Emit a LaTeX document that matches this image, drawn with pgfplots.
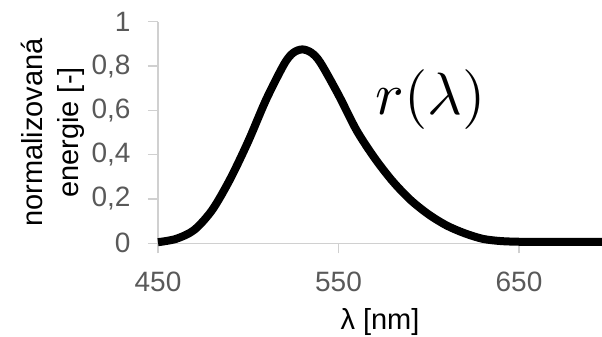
\documentclass[border=0pt]{standalone}
\usepackage{graphicx}
\usepackage{pgfplots}
\pgfplotsset{compat=1.18}
\usepackage{fontspec}
\setmainfont{Liberation Sans}
\definecolor{axgrey}{HTML}{D0D0D0}
\definecolor{tickgrey}{HTML}{595959}
\begin{document}
\begin{tikzpicture}
\begin{axis}[
  scale only axis,
  width=444bp, height=221.6bp,
  xmin=450, xmax=696, ymin=0, ymax=1,
  axis x line*=bottom, axis y line*=left,
  axis line style={axgrey, line width=1.2bp, -},
  xtick={450,550,650}, ytick={0,0.2,0.4,0.6,0.8,1},
  tick style={axgrey, line width=1.2bp},
  tick align=outside, major tick length=10bp,
  ticklabel style={font=\fontsize{28bp}{30bp}\selectfont, text=tickgrey},
  xticklabel style={yshift=-15bp},
  yticklabel style={xshift=-14bp},
  /pgf/number format/.cd, use comma, 1000 sep={}, assume math mode=true,
  /pgfplots/.cd,
  xlabel={λ [nm]},
  ylabel={normalizovaná\\energie [-]},
  label style={font=\fontsize{29bp}{36bp}\selectfont, text=black},
  ylabel style={align=center},
  xlabel shift=10bp,
  ylabel shift=0bp,
  clip=false,
]
\addplot[black, line width=8bp, smooth, line join=round] coordinates {
(450,0.005) (460,0.02) (470,0.06) (480,0.15) (490,0.29) (500,0.46)
(510,0.65) (520,0.81) (525,0.86) (530,0.875) (535,0.86) (540,0.815)
(550,0.67) (560,0.51) (570,0.385) (580,0.28) (590,0.195) (600,0.13)
(610,0.08) (620,0.045) (630,0.02) (640,0.01) (650,0.007) (660,0.006)
(696,0.006)
};
\node at (axis cs:601,0.647) {\scalebox{6}{$r(\lambda)$}};
\coordinate (sw) at (rel axis cs:0,0);
\coordinate (ne) at (rel axis cs:1,1);
\end{axis}
\pgfresetboundingbox
\path[use as bounding box] ([shift={(-158bp,-93.7bp)}]sw) rectangle ([shift={(0bp,21.7bp)}]ne);
\end{tikzpicture}
\end{document}
